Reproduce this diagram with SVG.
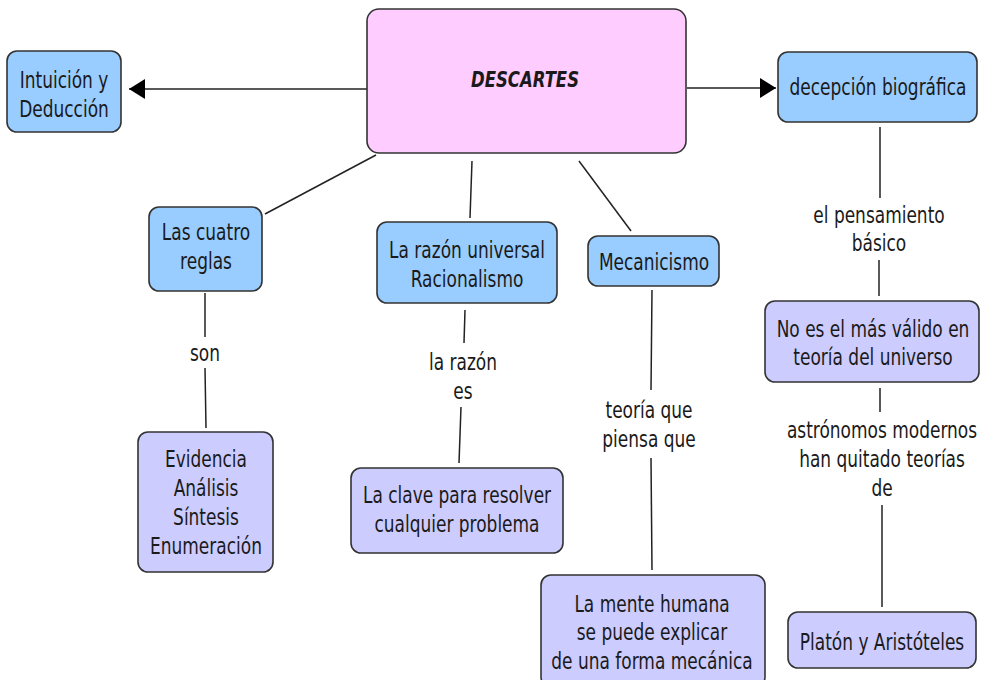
<svg xmlns="http://www.w3.org/2000/svg" width="981" height="680" viewBox="0 0 981 680">
<defs>
<style>
.n rect{stroke:#333;stroke-width:1.6}
.pink{fill:#ffccff}
.blue{fill:#99ccff}
.lav{fill:#ccccff}
.t{font-family:"DejaVu Sans","Verdana",sans-serif;font-size:17px;fill:#1a1a1a;text-anchor:middle}
.b{font-weight:bold;font-style:italic;font-size:16.5px}
.c line{stroke:#222;stroke-width:1.5;fill:none}
</style>
<marker id="ah" markerUnits="userSpaceOnUse" markerWidth="18" markerHeight="22" refX="16" refY="10" orient="auto">
<path d="M0,0 L16,10 L0,20 Z" fill="#000"/>
</marker>
</defs>
<rect width="981" height="680" fill="#fff"/>
<g class="c" id="connectors">
<line x1="367" y1="89" x2="129" y2="89" marker-end="url(#ah)"/>
<line x1="687" y1="88" x2="776" y2="88" marker-end="url(#ah)"/>
<line x1="376" y1="155" x2="265" y2="214"/>
<line x1="472" y1="161" x2="470" y2="218"/>
<line x1="579" y1="161" x2="631" y2="231"/>
<line x1="205" y1="293" x2="205" y2="337"/>
<line x1="205" y1="368" x2="206" y2="428"/>
<line x1="465" y1="310" x2="464" y2="343"/>
<line x1="461" y1="407" x2="459" y2="463"/>
<line x1="652" y1="290" x2="651" y2="390"/>
<line x1="651" y1="458" x2="652" y2="570"/>
<line x1="880" y1="127" x2="880" y2="198"/>
<line x1="879" y1="260" x2="879" y2="296"/>
<line x1="880" y1="388" x2="880" y2="412"/>
<line x1="882" y1="505" x2="882" y2="607"/>
<text class="t" transform="translate(205,361) scale(1,1.37)">son</text>
<text class="t" transform="translate(463,370) scale(1,1.37)"><tspan x="0" y="0">la razón</tspan><tspan x="0" y="21.2">es</tspan></text>
<text class="t" transform="translate(649,418) scale(1,1.37)"><tspan x="0" y="0">teoría que</tspan><tspan x="0" y="21.2">piensa que</tspan></text>
<text class="t" transform="translate(879,223) scale(1,1.37)"><tspan x="0" y="0">el pensamiento</tspan><tspan x="0" y="20.5">básico</tspan></text>
<text class="t" transform="translate(882,438) scale(1,1.37)"><tspan x="0" y="0">astrónomos modernos</tspan><tspan x="0" y="21">han quitado teorías</tspan><tspan x="0" y="42">de</tspan></text>
</g>
<g class="n" id="descartes">
<rect class="pink" x="367" y="9" width="319" height="144" rx="12"/>
<text class="t b" transform="translate(525,87) scale(1,1.25)">DESCARTES</text>
</g>
<g class="n" id="intuicion">
<rect class="blue" x="7" y="51" width="114" height="81" rx="10"/>
<text class="t" transform="translate(64,88) scale(1,1.37)"><tspan x="0" y="0">Intuición y</tspan><tspan x="0" y="21">Deducción</tspan></text>
</g>
<g class="n" id="decepcion">
<rect class="blue" x="778" y="52" width="199" height="70" rx="10"/>
<text class="t" transform="translate(878,95) scale(1,1.37)">decepción biográfica</text>
</g>
<g class="n" id="cuatro">
<rect class="blue" x="149" y="207" width="113" height="84" rx="10"/>
<text class="t" transform="translate(206,240) scale(1,1.37)"><tspan x="0" y="0">Las cuatro</tspan><tspan x="0" y="21">reglas</tspan></text>
</g>
<g class="n" id="razon">
<rect class="blue" x="377" y="222" width="180" height="81" rx="10"/>
<text class="t" transform="translate(467,258) scale(1,1.37)"><tspan x="0" y="0">La razón universal</tspan><tspan x="0" y="21">Racionalismo</tspan></text>
</g>
<g class="n" id="mecanicismo">
<rect class="blue" x="588" y="236" width="131" height="50" rx="10"/>
<text class="t" transform="translate(654,270) scale(1,1.37)">Mecanicismo</text>
</g>
<g class="n" id="noes">
<rect class="lav" x="765" y="301" width="214" height="81" rx="10"/>
<text class="t" transform="translate(873,337) scale(1,1.37)"><tspan x="0" y="0">No es el más válido en</tspan><tspan x="0" y="20.5">teoría del universo</tspan></text>
</g>
<g class="n" id="evidencia">
<rect class="lav" x="138" y="432" width="135" height="140" rx="10"/>
<text class="t" transform="translate(206,467) scale(1,1.37)"><tspan x="0" y="0">Evidencia</tspan><tspan x="0" y="21.2">Análisis</tspan><tspan x="0" y="42.4">Síntesis</tspan><tspan x="0" y="63.6">Enumeración</tspan></text>
</g>
<g class="n" id="clave">
<rect class="lav" x="351" y="468" width="212" height="85" rx="10"/>
<text class="t" transform="translate(457,503) scale(1,1.37)"><tspan x="0" y="0">La clave para resolver</tspan><tspan x="0" y="21.2">cualquier problema</tspan></text>
</g>
<g class="n" id="mente">
<rect class="lav" x="541" y="575" width="224" height="112" rx="10"/>
<text class="t" transform="translate(652,612) scale(1,1.37)"><tspan x="0" y="0">La mente humana</tspan><tspan x="0" y="20.8">se puede explicar</tspan><tspan x="0" y="41.6">de una forma mecánica</tspan></text>
</g>
<g class="n" id="platon">
<rect class="lav" x="788" y="612" width="188" height="56" rx="10"/>
<text class="t" transform="translate(882,650) scale(1,1.37)">Platón y Aristóteles</text>
</g>
</svg>
